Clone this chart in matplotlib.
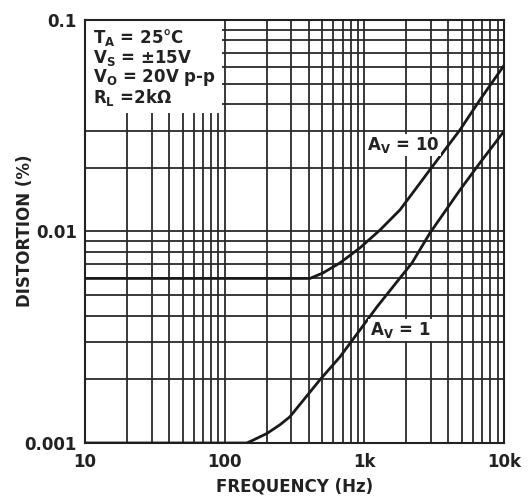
import matplotlib
matplotlib.use("Agg")
import matplotlib.pyplot as plt
from matplotlib.ticker import FixedLocator, NullFormatter, LogLocator
import numpy as np

plt.rcParams['font.family'] = ['DejaVu Sans']
plt.rcParams['mathtext.default'] = 'regular'

# Data
freq_av10 = [10, 100, 408, 506, 668, 929, 1294, 1799, 2381, 2951, 4834, 6722, 10000]
dist_av10 = [0.006, 0.006, 0.006, 0.00637, 0.0071, 0.00836, 0.01016, 0.01265, 0.0162, 0.0196, 0.0302, 0.0419, 0.061]
freq_av1 = [10, 100, 144, 159, 201, 249, 293, 481, 668, 929, 1231, 2193, 2951, 4834, 6722, 10000]
dist_av1 = [0.001, 0.001, 0.001, 0.00103, 0.00111, 0.00122, 0.00133, 0.00199, 0.00255, 0.00342, 0.0044, 0.0071, 0.00984, 0.0157, 0.0211, 0.0298]

x_ticks = [10, 100, 1000, 10000]
x_labels = ['10', '100', '1k', '10k']
y_ticks = [0.001, 0.01, 0.1]
y_labels = ['0.001', '0.01', '0.1']

conditions = [r'T$_{A}$ = 25°C', r'V$_{S}$ = ±15V', r'V$_{O}$ = 20V p-p', r'R$_{L}$ =2kΩ']

fig = plt.figure(figsize=(5.30, 4.97), dpi=100)
ax = fig.add_axes([85/530, 1 - 443/497, (504-85)/530, (443-20)/497])
ax.set_xscale('log')
ax.set_yscale('log')
ax.set_xlim(10, 10000)
ax.set_ylim(0.001, 0.1)

ax.xaxis.set_major_locator(FixedLocator(x_ticks))
ax.yaxis.set_major_locator(FixedLocator(y_ticks))
ax.xaxis.set_minor_locator(LogLocator(base=10, subs=np.arange(2, 10)))
ax.yaxis.set_minor_locator(LogLocator(base=10, subs=np.arange(2, 10)))
ax.xaxis.set_minor_formatter(NullFormatter())
ax.yaxis.set_minor_formatter(NullFormatter())
ax.set_xticklabels(x_labels, fontsize=12, fontweight='bold', color='#222222')
ax.set_yticklabels(y_labels, fontsize=12, fontweight='bold', color='#222222')
ax.tick_params(which='both', length=0, pad=6)
ax.tick_params(axis='x', pad=7)

ax.grid(which='both', color='#2a2a2a', linewidth=1.3, zorder=1)
ax.set_axisbelow(True)
for s in ax.spines.values():
    s.set_linewidth(1.5)
    s.set_color('#222222')

# white box for the conditions (hides grid in top-left)
rect = plt.Rectangle((0, 1 - 93/423), (222-85)/419, 93/423, transform=ax.transAxes,
                     facecolor='white', edgecolor='none', zorder=2)
ax.add_patch(rect)

ax.plot(freq_av10, dist_av10, color='#1a1a1a', linewidth=2.0, zorder=3, solid_joinstyle='round')
ax.plot(freq_av1, dist_av1, color='#1a1a1a', linewidth=2.0, zorder=3, solid_joinstyle='round')

for i, t in enumerate(conditions):
    ax.text(93/530, 1 - (38 + 19.7*i)/497, t, transform=fig.transFigure,
            fontsize=12, fontweight='bold', color='#222222', va='center', ha='left', zorder=4)

ax.text((403-85)/419, 1 - (145-20)/423, r'A$_{V}$ = 10', transform=ax.transAxes,
        fontsize=12, fontweight='bold', color='#222222', ha='center', va='center', zorder=4,
        bbox=dict(facecolor='white', edgecolor='none', pad=1))
ax.text((400-85)/419, 1 - (330-20)/423, r'A$_{V}$ = 1', transform=ax.transAxes,
        fontsize=12, fontweight='bold', color='#222222', ha='center', va='center', zorder=4,
        bbox=dict(facecolor='white', edgecolor='none', pad=1))

fig.text(295/530, 1 - 487/497, 'FREQUENCY (Hz)', fontsize=12, fontweight='bold',
         color='#222222', ha='center', va='center')
fig.text(25/530, 1 - 231/497, 'DISTORTION (%)', fontsize=12, fontweight='bold',
         color='#222222', ha='center', va='center', rotation=90)

fig.savefig('out.png', dpi=100)
